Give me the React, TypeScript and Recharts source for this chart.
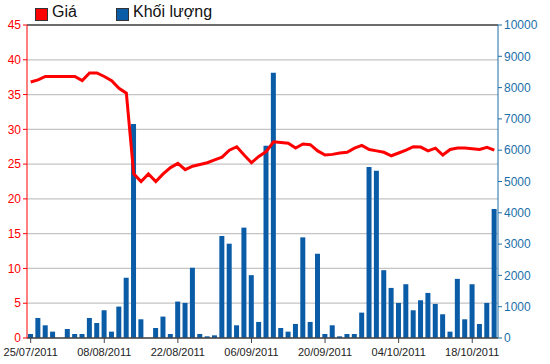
import React from "react";
import {
  ComposedChart,
  Bar,
  Line,
  XAxis,
  YAxis,
  CartesianGrid,
  Legend,
  ReferenceLine,
} from "recharts";

const dates = [
  "25/07/2011", "26/07/2011", "27/07/2011", "28/07/2011", "29/07/2011",
  "01/08/2011", "02/08/2011", "03/08/2011", "04/08/2011", "05/08/2011",
  "08/08/2011", "09/08/2011", "10/08/2011", "11/08/2011", "12/08/2011",
  "15/08/2011", "16/08/2011", "17/08/2011", "18/08/2011", "19/08/2011",
  "22/08/2011", "23/08/2011", "24/08/2011", "25/08/2011", "26/08/2011",
  "29/08/2011", "30/08/2011", "31/08/2011", "01/09/2011", "05/09/2011",
  "06/09/2011", "07/09/2011", "08/09/2011", "09/09/2011", "12/09/2011",
  "13/09/2011", "14/09/2011", "15/09/2011", "16/09/2011", "19/09/2011",
  "20/09/2011", "21/09/2011", "22/09/2011", "23/09/2011", "26/09/2011",
  "27/09/2011", "28/09/2011", "29/09/2011", "30/09/2011", "03/10/2011",
  "04/10/2011", "05/10/2011", "06/10/2011", "07/10/2011", "10/10/2011",
  "11/10/2011", "12/10/2011", "13/10/2011", "14/10/2011", "17/10/2011",
  "18/10/2011", "19/10/2011", "20/10/2011", "21/10/2011",
];

const prices = [
  36.8, 37.1, 37.6, 37.6, 37.6, 37.6, 37.6, 37.0, 38.1, 38.1,
  37.6, 37.0, 35.9, 35.2, 23.6, 22.5, 23.6, 22.5, 23.6, 24.5,
  25.1, 24.2, 24.7, 24.95, 25.2, 25.6, 26.0, 27.0, 27.5, 26.3,
  25.2, 26.1, 26.8, 28.2, 28.1, 28.0, 27.3, 27.9, 27.8, 26.9,
  26.3, 26.4, 26.6, 26.7, 27.3, 27.7, 27.1, 26.9, 26.7, 26.2,
  26.6, 27.0, 27.5, 27.45, 26.9, 27.3, 26.3, 27.1, 27.3, 27.3,
  27.2, 27.1, 27.4, 27.0,
];

const volumes = [
  128, 640, 406, 203, 0, 288, 128, 128, 640, 480,
  887, 203, 1004, 1923, 6840, 598, 0, 320, 684, 128,
  1164, 1122, 2244, 128, 53, 85, 3258, 3013, 406, 3526,
  2008, 513, 6144, 8476, 320, 203, 449, 3215, 513, 2692,
  128, 406, 53, 128, 128, 811, 5463, 5345, 2167, 1600,
  1120, 1718, 886, 1206, 1440, 1089, 758, 203, 1889, 598,
  1718, 448, 1120, 4120,
];

const leftTicks = [0, 5, 10, 15, 20, 25, 30, 35, 40, 45];
const rightTicks = [0, 1000, 2000, 3000, 4000, 5000, 6000, 7000, 8000, 9000, 10000];

const data = dates.map((d, i) => ({ date: d, price: prices[i], volume: volumes[i] }));

const RED = "#ff0000";
const BLUE = "#0a5ca6";
const AXIS_BLUE = "#1c6fa8";
const FONT = "'Liberation Sans', Arial, sans-serif";

const renderLegend = () => (
  <div
    style={{
      height: 25,
      position: "relative",
      fontFamily: FONT,
      fontSize: 16,
      color: "#111",
    }}
  >
    <span
      style={{
        position: "absolute",
        left: 35,
        top: 8,
        width: 11,
        height: 11,
        background: RED,
        border: "1px solid #333",
      }}
    />
    <span style={{ position: "absolute", left: 52, top: 3, lineHeight: "18px" }}>Giá</span>
    <span
      style={{
        position: "absolute",
        left: 116,
        top: 8,
        width: 11,
        height: 11,
        background: BLUE,
        border: "1px solid #333",
      }}
    />
    <span style={{ position: "absolute", left: 133, top: 3, lineHeight: "18px" }}>
      Khối lượng
    </span>
  </div>
);

export default function App() {
  return (
    <div style={{ position: "absolute", left: 0, top: 0, width: 550, height: 364, background: "#fff" }}>
      <ComposedChart
        width={550}
        height={364}
        data={data}
        margin={{ top: 0, right: 0, bottom: 0, left: 0 }}
        barSize={5}
      >
        <Legend
          verticalAlign="top"
          align="left"
          content={renderLegend}
          wrapperStyle={{ top: 0, left: 0, width: 550, height: 25 }}
        />
        <CartesianGrid
          yAxisId="left"
          vertical={false}
          stroke="#c4c4c4"
          strokeWidth={1.2}
        />
        <XAxis
          dataKey="date"
          interval={9}
          height={26}
          axisLine={{ stroke: "#444", strokeWidth: 1.5 }}
          tickLine={{ stroke: "#444" }}
          tickSize={5}
          tick={{ fill: "#222", fontSize: 11, fontFamily: FONT, dy: 3 }}
        />
        <YAxis
          yAxisId="left"
          orientation="left"
          width={27}
          domain={[0, 45]}
          ticks={leftTicks}
          interval={0}
          axisLine={{ stroke: RED }}
          tickLine={{ stroke: RED }}
          tickSize={4}
          tick={{ fill: RED, fontSize: 12, fontFamily: FONT }}
        />
        <YAxis
          yAxisId="right"
          orientation="right"
          width={52}
          domain={[0, 10000]}
          ticks={rightTicks}
          interval={0}
          axisLine={{ stroke: AXIS_BLUE }}
          tickLine={{ stroke: AXIS_BLUE }}
          tickSize={4}
          tick={{ fill: AXIS_BLUE, fontSize: 12, fontFamily: FONT }}
        />
        <ReferenceLine yAxisId="left" y={45} stroke="#444" strokeWidth={1.5} />
        <Bar
          yAxisId="right"
          dataKey="volume"
          fill={BLUE}
          isAnimationActive={false}
        />
        <Line
          yAxisId="left"
          dataKey="price"
          stroke={RED}
          strokeWidth={3}
          dot={false}
          activeDot={false}
          isAnimationActive={false}
        />
      </ComposedChart>
    </div>
  );
}
